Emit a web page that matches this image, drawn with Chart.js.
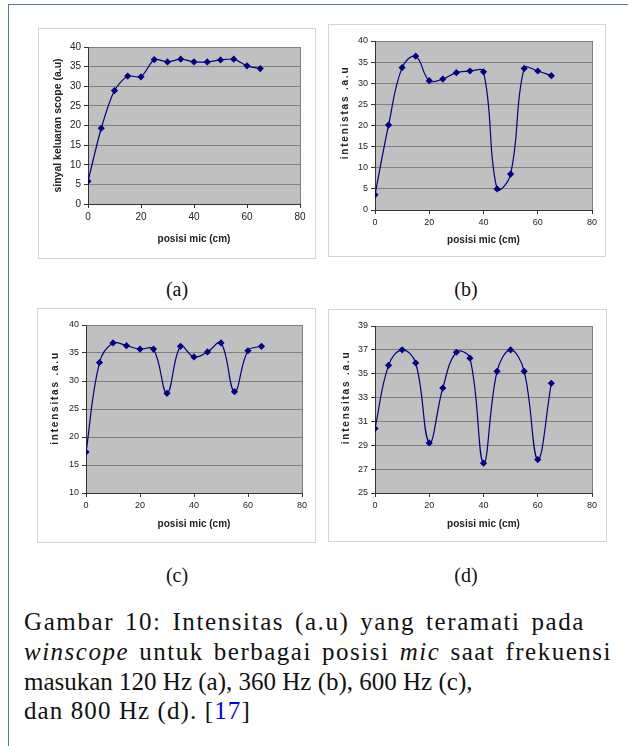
<!DOCTYPE html>
<html><head><meta charset="utf-8">
<script src="https://cdn.jsdelivr.net/npm/chart.js@4/dist/chart.umd.min.js"></script>
<style>
body{margin:0;width:628px;height:746px;background:#fff;position:relative;overflow:hidden;}
.frame{position:absolute;left:8px;top:4px;width:700px;height:800px;border-left:1.5px solid #5877a6;border-top:1.5px solid #5877a6;}
.panel{position:absolute;border:1px solid #d4d4d4;box-sizing:border-box;background:#fff}
canvas{position:absolute}
.lab{position:absolute;font-family:"Liberation Serif",serif;font-size:20px;line-height:24px;transform:translateX(-50%);white-space:nowrap;color:#111}
.cl{position:absolute;left:24px;font-family:"Liberation Serif",serif;font-size:25px;line-height:30px;height:30px;color:#111;white-space:nowrap}
</style></head>
<body>
<div class="frame"></div>
<div class="panel" style="left:38px;top:28px;width:278px;height:231px"></div>
<div class="panel" style="left:328px;top:24px;width:278px;height:233px"></div>
<div class="panel" style="left:37px;top:308px;width:279px;height:235px"></div>
<div class="panel" style="left:328px;top:309px;width:279px;height:233px"></div>
<canvas id="ca" width="278" height="231" style="left:38px;top:28px"></canvas>
<canvas id="cb" width="278" height="233" style="left:328px;top:24px"></canvas>
<canvas id="cc" width="279" height="235" style="left:37px;top:308px"></canvas>
<canvas id="cd" width="279" height="233" style="left:328px;top:309px"></canvas>
<div class="lab" style="left:177px;top:277px">(a)</div>
<div class="lab" style="left:466px;top:277px">(b)</div>
<div class="lab" style="left:177px;top:563px">(c)</div>
<div class="lab" style="left:466px;top:563px">(d)</div>
<div class="cl" data-ls="1.6" data-w="561" style="top:607px">Gambar 10: Intensitas (a.u) yang teramati pada</div>
<div class="cl" data-ls="1.5" data-w="588" style="top:637px"><i>winscope</i> untuk berbagai posisi <i>mic</i> saat frekuensi</div>
<div class="cl" data-ls="0" style="top:667px">masukan 120 Hz (a), 360 Hz (b), 600 Hz (c),</div>
<div class="cl" data-ls="1.1" style="top:696px">dan 800 Hz (d). [<span style="color:#0000f0">17</span>]</div>
<script>
const positions = [0,5,10,15,20,25,30,35,40,45,50,55,60,65];
const valuesA = [5.8,19.3,28.9,32.6,32.4,36.8,36.2,36.9,36.2,36.2,36.7,36.9,35.2,34.5];
const valuesB = [3.6,20.1,33.7,36.4,30.6,31.0,32.5,32.9,32.7,5.0,8.5,33.5,32.9,31.8];
const valuesC = [17.3,33.3,36.8,36.3,35.7,35.7,27.8,36.2,34.3,35.2,36.8,28.1,35.4,36.2];
const valuesD = [30.4,35.7,37.0,35.9,29.2,33.8,36.8,36.3,27.5,35.2,37.0,35.2,27.8,34.2];
const xTicks = [0,20,40,60,80];
const yTicksA = [0,5,10,15,20,25,30,35,40];
const yTicksB = [0,5,10,15,20,25,30,35,40];
const yTicksC = [10,15,20,25,30,35,40];
const yTicksD = [25,27,29,31,33,35,37,39];
const xTitle = 'posisi mic (cm)';
const yTitleA = 'sinyal keluaran scope (a.u)';
const yTitleB = 'intenistas .a.u';
const yTitleC = 'intensitas .a.u';
const yTitleD = 'intensitas .a.u';

// caption: letter-spacing, then fit the first two lines with word spacing
document.querySelectorAll('.cl').forEach(el=>{
  el.style.letterSpacing = el.dataset.ls+'px';
  if (el.dataset.w){
    const w = el.getBoundingClientRect().width;
    const spaces = (el.textContent.match(/ /g)||[]).length;
    el.style.wordSpacing = ((+el.dataset.w - w)/spaces).toFixed(2)+'px';
  }
});

const plotBg = {
  id:'plotBg',
  beforeDraw(chart){
    const {ctx, chartArea:a} = chart;
    ctx.save();
    ctx.fillStyle = '#c0c0c0';
    ctx.fillRect(a.left, a.top, a.right-a.left, a.bottom-a.top);
    ctx.strokeStyle = '#808080';
    ctx.lineWidth = 1;
    ctx.strokeRect(Math.round(a.left)+0.5, Math.round(a.top)+0.5, Math.round(a.right-a.left), Math.round(a.bottom-a.top));
    ctx.restore();
  }
};
const yTitlePlugin = {
  id:'yTitle',
  afterDraw(chart, args, o){
    const {ctx, chartArea:a} = chart;
    ctx.save();
    ctx.translate(o.x, (a.top+a.bottom)/2 + o.dy);
    ctx.rotate(-Math.PI/2);
    ctx.font = 'bold '+o.size+'px "Liberation Sans", Arial, sans-serif';
    ctx.fillStyle = '#222';
    ctx.textAlign = 'center';
    ctx.textBaseline = 'middle';
    if ('letterSpacing' in ctx) ctx.letterSpacing = o.ls+'px';
    ctx.fillText(o.text, 0, 0);
    ctx.restore();
  }
};

function makeChart(id, values, yTicks, yTitle, o){
  new Chart(document.getElementById(id), {
    type:'line',
    data:{datasets:[{
      data: positions.map((x,i)=>({x:x, y:values[i]})),
      borderColor:'#000080', backgroundColor:'#000080',
      borderWidth:1.2, pointStyle:'rectRot', pointRadius:3.6,
      pointBorderWidth:0, tension:o.tension, fill:false
    }]},
    plugins:[plotBg, yTitlePlugin],
    options:{
      responsive:false, animation:false, events:[],
      layout:{autoPadding:false, padding:o.pad},
      plugins:{legend:{display:false}, tooltip:{enabled:false},
        yTitle:{text:yTitle, x:o.tx, dy:o.dy, size:o.ytf, ls:o.ls}},
      scales:{
        x:{
          type:'linear', min:0, max:80,
          afterBuildTicks:s=>{s.ticks = xTicks.map(v=>({value:v}));},
          afterFit:s=>{s.height = o.xh;},
          grid:{drawOnChartArea:false, drawTicks:true, tickLength:4, tickColor:'#333', color:'#333'},
          border:{color:'#333', width:1},
          ticks:{font:{family:'Liberation Sans', size:o.tick}, color:'#222', padding:3, maxRotation:0},
          title:{display:true, text:xTitle, font:{family:'Liberation Sans', size:10, weight:'bold'}, color:'#222', padding:0}
        },
        y:{
          type:'linear', min:yTicks[0], max:yTicks[yTicks.length-1],
          afterBuildTicks:s=>{s.ticks = yTicks.map(v=>({value:v}));},
          afterFit:s=>{s.width = o.yw;},
          grid:{color:'#808080', lineWidth:1, tickLength:4, tickColor:'#333'},
          border:{color:'#333', width:1},
          ticks:{font:{family:'Liberation Sans', size:o.tick}, color:'#222', padding:3}
        }
      }
    }
  });
}

makeChart('ca', valuesA, yTicksA, yTitleA, {tension:0.25, pad:{left:14, top:19, right:16, bottom:14}, yw:36, xh:41, tick:10, ytf:10.5, ls:0, tx:20, dy:0});
makeChart('cb', valuesB, yTicksB, yTitleB, {tension:0.4, pad:{left:12, top:17, right:14, bottom:11}, yw:35, xh:36, tick:9, ytf:10, ls:1.8, tx:17, dy:-13});
makeChart('cc', valuesC, yTicksC, yTitleC, {tension:0.4, pad:{left:13, top:17, right:14, bottom:13}, yw:36, xh:37, tick:9, ytf:10, ls:1.8, tx:18, dy:-11});
makeChart('cd', valuesD, yTicksD, yTitleD, {tension:0.4, pad:{left:13, top:17, right:15, bottom:12}, yw:34, xh:37, tick:9, ytf:10, ls:1.8, tx:18, dy:-12});
</script>
</body></html>
